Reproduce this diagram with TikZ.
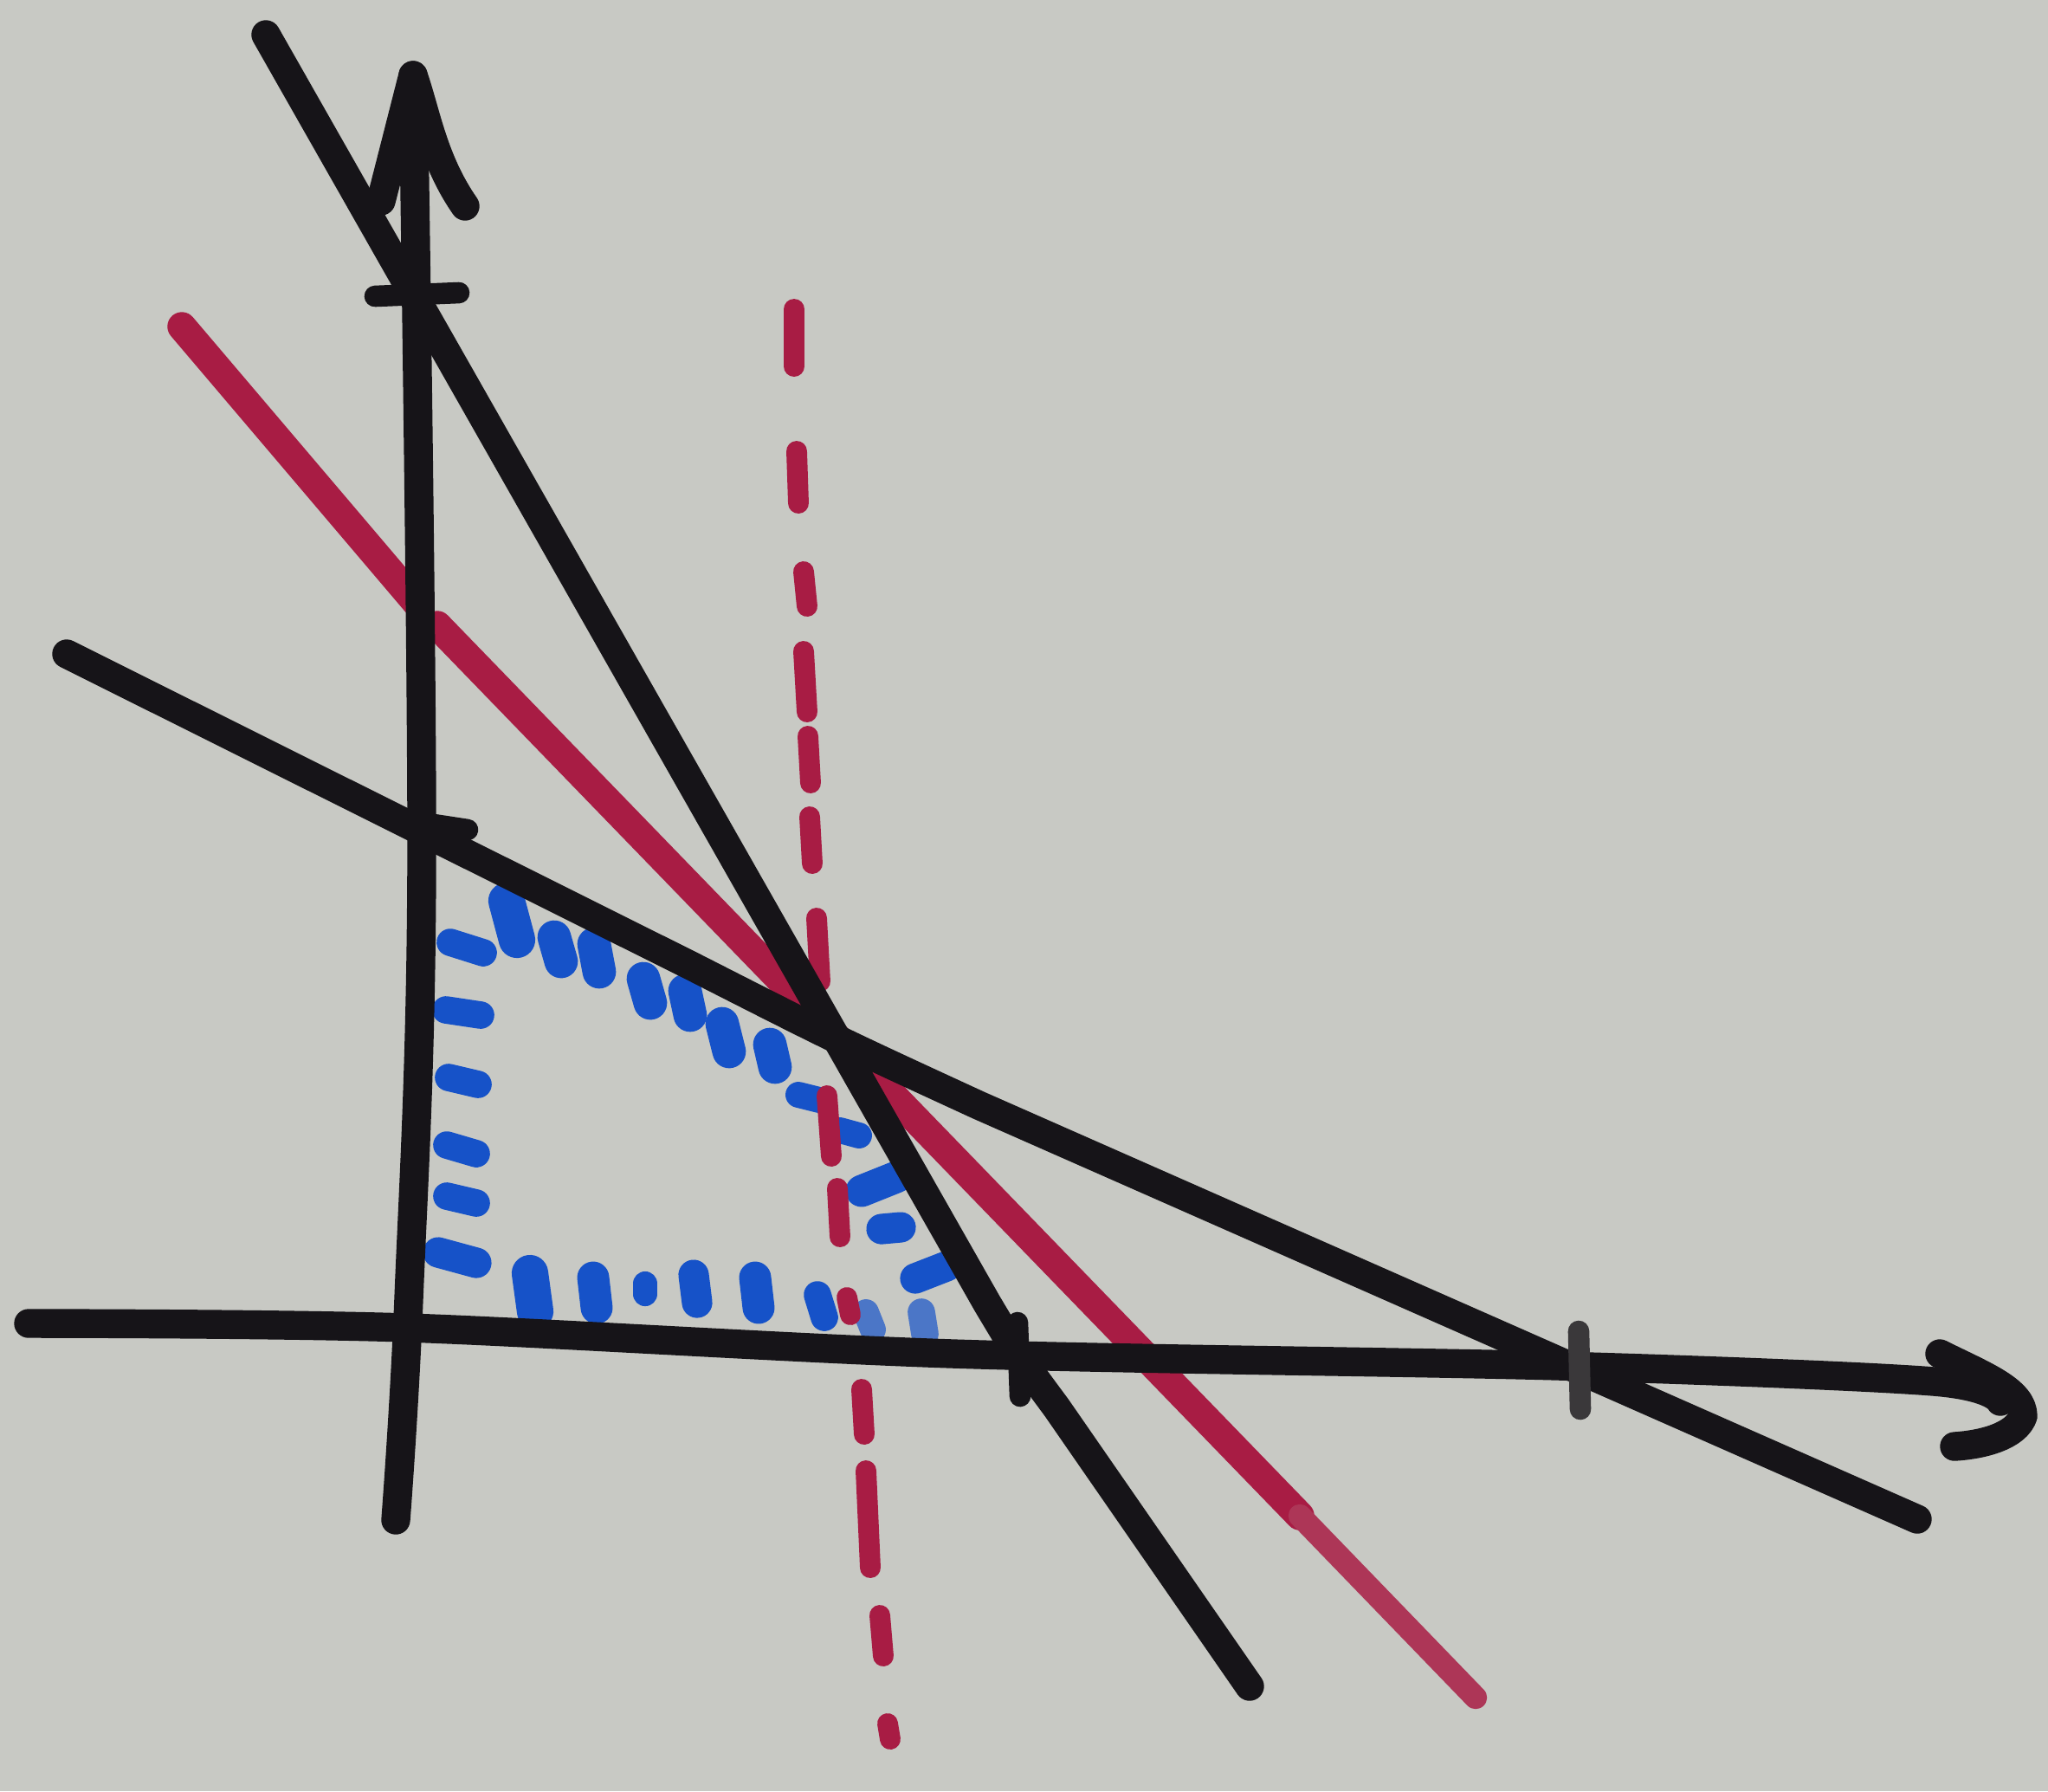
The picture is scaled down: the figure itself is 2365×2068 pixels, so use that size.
\documentclass[tikz,border=0pt]{standalone}
\definecolor{paper}{RGB}{200,201,196}
\definecolor{ink}{RGB}{22,20,24}
\definecolor{redink}{RGB}{168,28,68}
\definecolor{blueink}{RGB}{22,82,200}
\tikzset{
  blackline/.style={draw=ink, line width=9.5pt, line cap=round, line join=round},
  redline/.style={draw=redink, line width=9.5pt, line cap=round},
  reddash/.style={draw=redink, line width=6.8pt, line cap=round},
  bluedash/.style={draw=blueink, line width=#1, line cap=round},
  bluedash/.default=9pt,
  tickmark/.style={draw=ink, line width=7pt, line cap=round}
}
\begin{document}
\begin{tikzpicture}[x=0.01cm,y=-0.01cm]
\useasboundingbox (0,0) rectangle (2365,2068);
\fill[paper] (0,0) rectangle (2365,2068);

% blue dashed feasible region
% top row
\draw[bluedash=12pt] (585,1040) -- (597,1085);
\draw[bluedash=11pt] (640,1082) -- (648,1110);
\draw[bluedash=11pt] (686,1090) -- (692,1122);
\draw[bluedash=11pt] (743,1130) -- (751,1158);
\draw[bluedash=11pt] (791,1144) -- (797,1172);
\draw[bluedash=11pt] (834,1182) -- (842,1214);
\draw[bluedash=11pt] (889,1206) -- (895,1232);
% right side
\draw[bluedash=8.5pt] (922,1264) -- (946,1270);
\draw[bluedash=8.5pt] (970,1305) -- (992,1311);
\draw[bluedash=10.5pt] (995,1375) -- (1035,1359);
\draw[bluedash=10pt] (1018,1419) -- (1040,1417);
\draw[bluedash=10pt] (1057,1476) -- (1093,1462);
\draw[bluedash=9pt, draw=blueink!70!paper] (1064,1515) -- (1068,1540);
% bottom row
\draw[bluedash=12pt] (612,1470) -- (618,1514);
\draw[bluedash=10.5pt] (685,1475) -- (689,1510);
\draw[bluedash=8pt] (745,1482) -- (745,1494);
\draw[bluedash=10pt] (801,1472) -- (805,1504);
\draw[bluedash=10.5pt] (872,1475) -- (876,1510);
\draw[bluedash=9pt] (944,1495) -- (952,1521);
\draw[bluedash=8.5pt, draw=blueink!70!paper] (1000,1515) -- (1008,1535);
% left side
\draw[bluedash=9pt] (520,1088) -- (558,1100);
\draw[bluedash=9pt] (515,1166) -- (555,1172);
\draw[bluedash=9pt] (518,1244) -- (552,1252);
\draw[bluedash=9pt] (516,1322) -- (550,1332);
\draw[bluedash=9pt] (516,1381) -- (550,1389);
\draw[bluedash=10pt] (506,1446) -- (550,1458);

% red solid line
\draw[redline] (210,377) -- (482,697);
\draw[redline] (505,722) -- (1501,1750);
\draw[redline, draw=redink!85!paper, line width=7.5pt] (1501,1750) -- (1704,1960);

% red dashed vertical line
\draw[reddash] (917,357) -- (917,423);
\draw[reddash] (920,521) -- (922,581);
\draw[reddash] (928,660) -- (932,700);
\draw[reddash] (928,752) -- (932,822);
\draw[reddash] (933,850) -- (936,904);
\draw[reddash] (935,943) -- (938,997);
\draw[reddash] (943,1060) -- (947,1133);
\draw[reddash] (955,1265) -- (960,1335);
\draw[reddash] (967,1372) -- (970,1428);
\draw[reddash] (978,1498) -- (982,1518);
\draw[reddash] (995,1604) -- (998,1656);
\draw[reddash] (1000,1698) -- (1005,1810);
\draw[reddash] (1016,1865) -- (1020,1912);
\draw[reddash] (1025,1990) -- (1028,2008);

% black constraint lines
\draw[blackline] (307,40) -- (1140,1505) .. controls (1177,1567) .. (1220,1625) -- (1443,1947);
\draw[blackline] (77,755) -- (800,1116) .. controls (965,1200) .. (1130,1276) -- (2214,1754);

% axes
\draw[blackline] plot[smooth, tension=0.6] coordinates {(457,1755) (472,1500) (487,1000) (477,87)};
\draw[blackline] (440,232) -- (477,87) .. controls (492,130) and (500,185) .. (537,238);
\draw[blackline] plot[smooth, tension=0.5] coordinates {(33,1528) (470,1533) (1100,1563) (1800,1577) (2233,1595) (2310,1618)};
\draw[blackline] (2240,1563) .. controls (2290,1588) and (2336,1605) .. (2336,1635) .. controls (2328,1658) and (2290,1668) .. (2257,1670);

% intersection tick marks
\draw[tickmark] (433,342) -- (530,338);
\draw[tickmark] (455,945) -- (540,958);
\draw[tickmark] (1175,1527) -- (1178,1612);
\draw[tickmark, draw=ink!80!paper] (1823,1537) -- (1825,1627);
\end{tikzpicture}
\end{document}
